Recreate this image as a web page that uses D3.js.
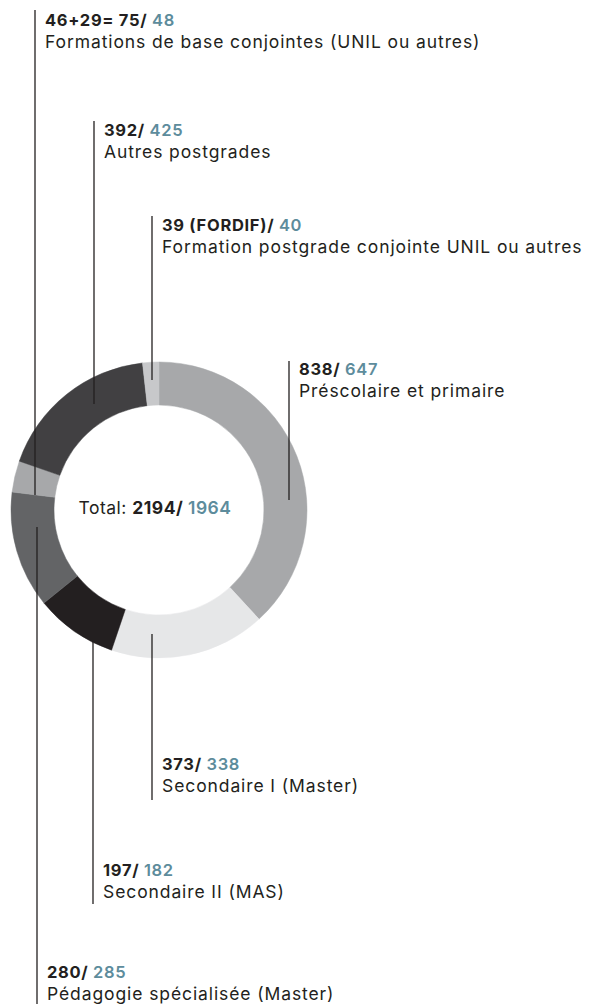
<!DOCTYPE html>
<html>
<head>
<meta charset="utf-8">
<script src="https://cdn.jsdelivr.net/npm/d3@7"></script>
<style>
  body { margin: 0; background: #fff; }
  text { font-family: Inter, "Noto Sans", sans-serif; }
</style>
</head>
<body>
<div id="plot"></div>
<script>
// Data (clockwise from 12 o'clock)
var categories = [
    "Préscolaire et primaire",
    "Secondaire I (Master)",
    "Secondaire II (MAS)",
    "Pédagogie spécialisée (Master)",
    "Formations de base conjointes (UNIL ou autres)",
    "Autres postgrades",
    "Formation postgrade conjointe UNIL ou autres"
];
var currentValues = [838, 373, 197, 280, 75, 392, 39];
var previousValues = [647, 338, 182, 285, 48, 425, 40];
var currentLabels = ["838", "373", "197", "280", "46+29= 75", "392", "39 (FORDIF)"];
var totalCurrent = "2194";
var totalPrevious = "1964";
var sliceColors = ["#a7a8aa", "#e6e7e8", "#231f20", "#636466", "#a7a8aa", "#414042", "#c7c8ca"];

// Annotation layout (leader line x, its top / bottom, baseline of first label line)
var layout = [
    { x: 289, y1: 361, y2: 500, base: 375 },
    { x: 152, y1: 634, y2: 800, base: 770 },
    { x: 93,  y1: 642, y2: 904, base: 876 },
    { x: 37,  y1: 527, y2: 1004, base: 978 },
    { x: 35,  y1: 10,  y2: 495, base: 26 },
    { x: 94,  y1: 121, y2: 404, base: 136 },
    { x: 152, y1: 216, y2: 380, base: 231 }
];

var width = 589, height = 1007;
var cx = 159, cy = 510, outerR = 148, innerR = 105;
var dark = "#231f20", blue = "#5d8c9c";

var svg = d3.select("div#plot")
    .append("svg")
    .attr("width", width)
    .attr("height", height);

var pie = d3.pie().sort(null).value(function (d) { return d; });
var arc = d3.arc().innerRadius(innerR).outerRadius(outerR);

var ring = svg.append("g")
    .attr("transform", "translate(" + cx + "," + cy + ")");

ring.selectAll("path")
    .data(pie(currentValues))
    .enter().append("path")
    .attr("d", arc)
    .attr("fill", function (d, i) { return sliceColors[i]; })
    .attr("stroke", function (d, i) { return sliceColors[i]; })
    .attr("stroke-width", 0.5);

// Leader lines
svg.selectAll(".leader")
    .data(layout)
    .enter().append("line")
    .attr("class", "leader")
    .attr("x1", function (d) { return d.x; })
    .attr("x2", function (d) { return d.x; })
    .attr("y1", function (d) { return d.y1; })
    .attr("y2", function (d) { return d.y2; })
    .attr("stroke", dark)
    .attr("stroke-width", 1.3);

// Labels
var labels = svg.selectAll(".label")
    .data(categories)
    .enter().append("g")
    .attr("class", "label")
    .attr("transform", function (d, i) {
        return "translate(" + (layout[i].x + 10) + "," + layout[i].base + ")";
    });

var first = labels.append("text")
    .style("font-size", "16.5px")
    .style("letter-spacing", "0.7px")
    .style("font-weight", 700);
first.append("tspan")
    .attr("fill", dark)
    .text(function (d, i) { return currentLabels[i] + "/ "; });
first.append("tspan")
    .attr("fill", blue)
    .style("font-weight", 600)
    .text(function (d, i) { return previousValues[i]; });

labels.append("text")
    .attr("y", 22)
    .attr("fill", dark)
    .style("font-size", "17.5px")
    .style("letter-spacing", "0.9px")
    .text(function (d) { return d; });

// Total in the middle
var total = svg.append("text")
    .attr("x", cx - 4)
    .attr("y", 514)
    .attr("text-anchor", "middle")
    .style("font-size", "17.5px")
    .style("letter-spacing", "0.5px")
    .attr("fill", dark);
total.append("tspan").text("Total: ");
total.append("tspan").style("font-weight", 700).text(totalCurrent + "/ ");
total.append("tspan").style("font-weight", 600).attr("fill", blue).text(totalPrevious);
</script>
</body>
</html>
